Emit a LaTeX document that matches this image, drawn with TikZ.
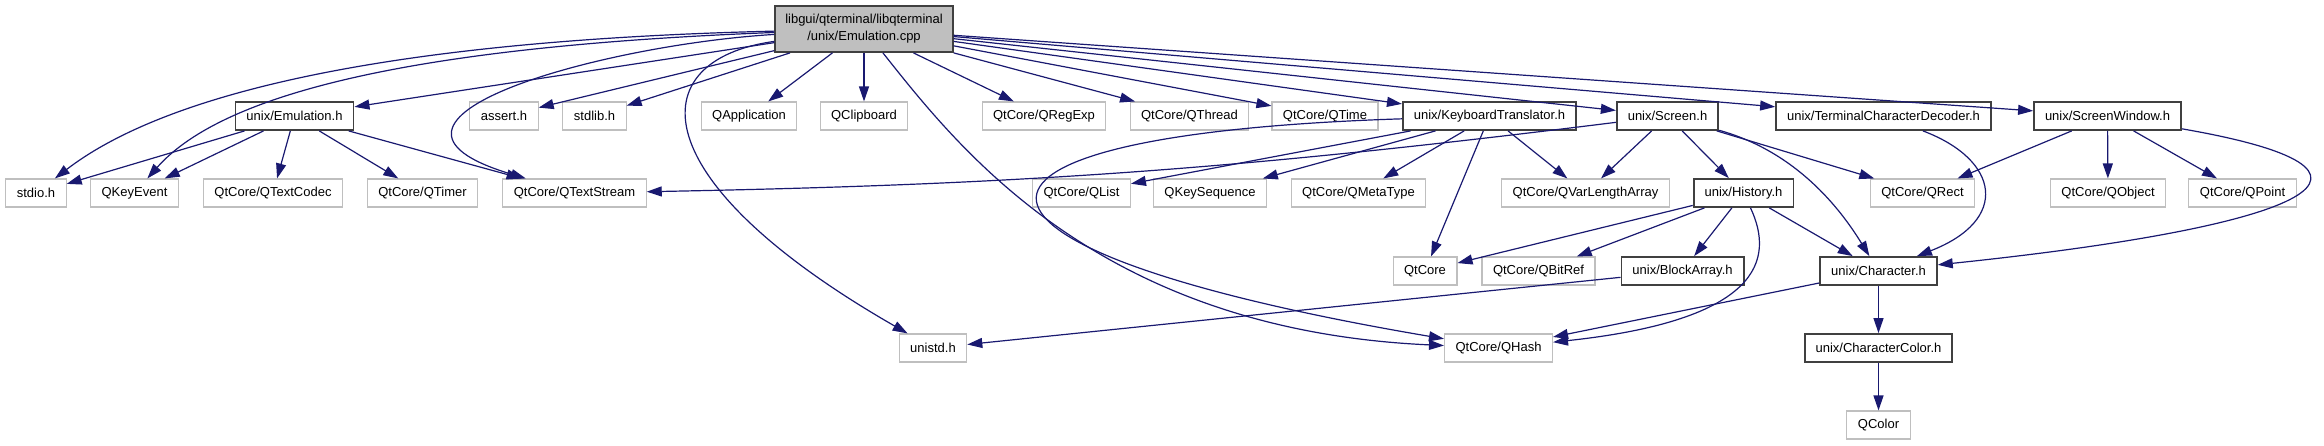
\documentclass[tikz,border=0pt]{standalone}
\usepackage{fontspec}
\setmainfont{Liberation Sans}
\usetikzlibrary{arrows.meta}
\definecolor{edgeblue}{HTML}{191970}
\definecolor{boxgray}{HTML}{BFBFBF}
\definecolor{boxdark}{HTML}{404040}

\begin{document}
\begin{tikzpicture}[x=1pt,y=-1pt]
\tikzstyle{every node}=[rectangle, draw=boxgray, line width=1.1pt,
                        inner xsep=11pt, inner ysep=0pt, minimum height=28pt,
                        font=\fontsize{13}{17}\selectfont]
\tikzstyle{hdr}=[draw=boxdark, line width=1.8pt]
\tikzstyle{src}=[hdr, fill=boxgray, minimum height=46pt, align=center, inner xsep=10pt]
\tikzstyle{dep}=[draw=edgeblue, line width=1.2pt, -{Triangle[length=15pt,width=10pt]}]
\useasboundingbox (0,0) rectangle (2324,445);
\node[src] (1) at (864,29){libgui/qterminal/libqterminal\\/unix/Emulation.cpp};
\node[hdr] (2) at (294.5,116){unix/Emulation.h};
\node (3) at (36,193){stdio.h};
\node (4) at (134.5,193){QKeyEvent};
\node (5) at (273,193){QtCore/QTextCodec};
\node (6) at (422.5,193){QtCore/QTimer};
\node (7) at (574.5,193){QtCore/QTextStream};
\node (8) at (504,116){assert.h};
\node (9) at (594.5,116){stdlib.h};
\node (10) at (933,348){unistd.h};
\node (11) at (749,116){QApplication};
\node (12) at (864,116){QClipboard};
\node (13) at (1498.5,348){QtCore/QHash};
\node (14) at (1044,116){QtCore/QRegExp};
\node (15) at (1189.5,116){QtCore/QThread};
\node (16) at (1325,116){QtCore/QTime};
\node[hdr] (17) at (1489.5,116){unix/KeyboardTranslator.h};
\node (18) at (1081.5,193){QtCore/QList};
\node (19) at (1210,193){QKeySequence};
\node (20) at (1358.5,193){QtCore/QMetaType};
\node (21) at (1425,271){QtCore};
\node (22) at (1585.5,193){QtCore/QVarLengthArray};
\node[hdr] (23) at (1667.5,116){unix/Screen.h};
\node[hdr] (24) at (1743.5,193){unix/History.h};
\node (25) at (1538.5,271){QtCore/QBitRef};
\node[hdr] (26) at (1682.5,271){unix/BlockArray.h};
\node[hdr] (27) at (1878.5,271){unix/Character.h};
\node[hdr] (28) at (1878.5,348){unix/CharacterColor.h};
\node (29) at (1878.5,425){QColor};
\node (30) at (1922.5,193){QtCore/QRect};
\node[hdr] (31) at (1883.5,116){unix/TerminalCharacterDecoder.h};
\node[hdr] (32) at (2107.5,116){unix/ScreenWindow.h};
\node (33) at (2108,193){QtCore/QObject};
\node (34) at (2242.5,193){QtCore/QPoint};
\foreach \i/\j in {1/2,1/8,1/9,1/11,1/12,1/14,1/15,1/16,1/17,1/23,1/31,1/32,
                   2/3,2/4,2/5,2/6,2/7,17/18,17/19,17/20,17/21,17/22,
                   23/22,23/24,23/30,24/21,24/25,24/26,24/27,26/10,27/13,
                   27/28,28/29,32/30,32/33,32/34}{\draw[dep] (\i) -- (\j);}
\draw[dep] (23) to[bend left=3] (7);
\draw[dep] (1) .. controls (400,40) and (170,90) .. (3);
\draw[dep] (1) .. controls (450,45) and (230,85) .. (4);
\draw[dep] (1) .. controls (600,45) and (330,120) .. (7);
\draw[dep] (1) .. controls (640,60) and (640,180) .. (10);
\draw[dep] (1) .. controls (960,150) and (1100,330) .. (13);
\draw[dep] (17) .. controls (900,135) and (920,250) .. (13);
\draw[dep] (24) .. controls (1775,260) and (1760,320) .. (13);
\draw[dep] (23) .. controls (1790,150) and (1835,200) .. (27);
\draw[dep] (31) .. controls (2000,160) and (2010,220) .. (27);
\draw[dep] (32) .. controls (2420,170) and (2320,225) .. (27);
\end{tikzpicture}
\end{document}
